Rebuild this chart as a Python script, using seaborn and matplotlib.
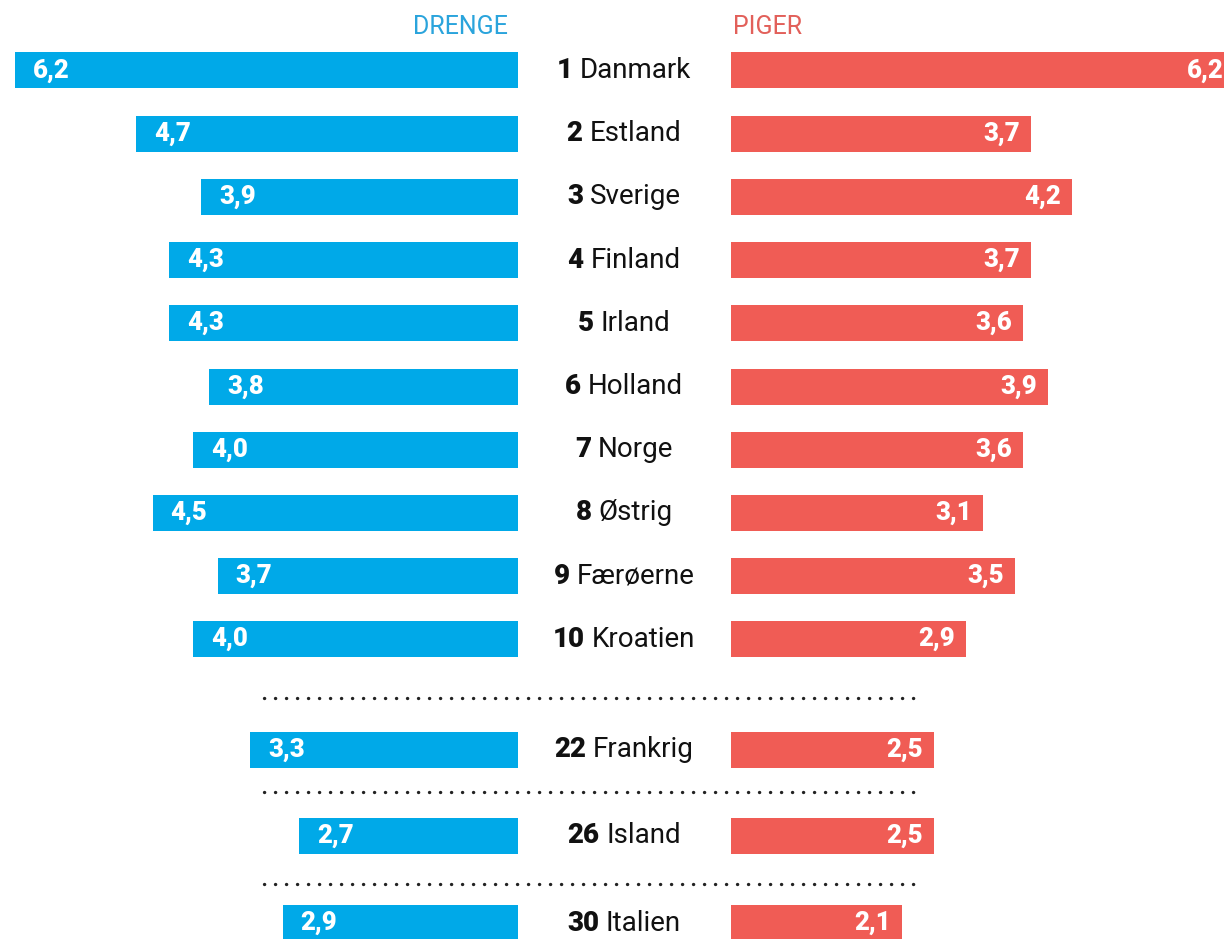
import pandas as pd
import matplotlib.pyplot as plt
import seaborn as sns

# data
ranks = [1, 2, 3, 4, 5, 6, 7, 8, 9, 10, 22, 26, 30]
countries = ["Danmark", "Estland", "Sverige", "Finland", "Irland", "Holland", "Norge",
             "Østrig", "Færøerne", "Kroatien", "Frankrig", "Island", "Italien"]
boys = [6.2, 4.7, 3.9, 4.3, 4.3, 3.8, 4.0, 4.5, 3.7, 4.0, 3.3, 2.7, 2.9]
girls = [6.2, 3.7, 4.2, 3.7, 3.6, 3.9, 3.6, 3.1, 3.5, 2.9, 2.5, 2.5, 2.1]

# layout: row slots (gaps after rank 10, 22, 26) and separator positions
row_pos = [0, 1, 2, 3, 4, 5, 6, 7, 8, 9, 10.75, 12.11, 13.49]
sep_pos = [9.93, 11.42, 12.87]

BLUE = "#00a9e8"
RED = "#f05c55"
FONT = "Roboto"

df = pd.DataFrame({"rank": ranks, "country": countries, "boys": boys,
                   "girls": girls, "pos": row_pos})

W, H = 1224, 939
fig = plt.figure(figsize=(W / 100, H / 100), dpi=100)
plt.rcParams["font.family"] = [FONT, "DejaVu Sans"]

ylim = (13.74, -1.115)
px_per_unit = 81.2

# left panel: boys, growing leftwards from the centre column
ax_l = fig.add_axes([0, 0, 518 / W, 1])
sns.barplot(data=df, x="boys", y="pos", orient="h", native_scale=True,
            color=BLUE, width=0.57, saturation=1, ax=ax_l)
ax_l.set_xlim(518 / px_per_unit, 0)
ax_l.set_ylim(*ylim)
ax_l.axis("off")
for v, y in zip(df["boys"], df["pos"]):
    ax_l.annotate(f"{v:.1f}".replace(".", ","), (v, y), xytext=(13, 0),
                  textcoords="offset points", ha="left", va="center",
                  color="white", fontsize=18.5, fontweight="heavy")

# right panel: girls
ax_r = fig.add_axes([731 / W, 0, (W - 731) / W, 1])
sns.barplot(data=df, x="girls", y="pos", orient="h", native_scale=True,
            color=RED, width=0.57, saturation=1, ax=ax_r)
ax_r.set_xlim(0, (W - 731) / px_per_unit)
ax_r.set_ylim(*ylim)
ax_r.axis("off")
for v, y in zip(df["girls"], df["pos"]):
    ax_r.annotate(f"{v:.1f}".replace(".", ","), (v, y), xytext=(-8, 0),
                  textcoords="offset points", ha="right", va="center",
                  color="white", fontsize=18.5, fontweight="heavy", annotation_clip=False)

# overlay for the centre labels, headers and dotted separators (x in pixels)
ov = fig.add_axes([0, 0, 1, 1], facecolor="none")
ov.set_xlim(0, W)
ov.set_ylim(*ylim)
ov.axis("off")

for y in sep_pos:
    ov.plot([264, 918], [y, y], color="#222222", lw=2.4,
            linestyle=(0, (0.05, 3.25)), dash_capstyle="round")

ov.text(508, -0.68, "DRENGE", color="#2aa4dc", fontsize=18, ha="right", va="center")
ov.text(733, -0.68, "PIGER", color="#e2605a", fontsize=18, ha="left", va="center")

# rank (bold) + country name, centred as one line
pairs = []
for r, c, y in zip(df["rank"], df["country"], df["pos"]):
    t1 = ov.text(0, y, str(r), fontsize=20, fontweight="heavy", color="#111111",
                 ha="left", va="center")
    t2 = ov.text(0, y, c, fontsize=20, color="#111111", ha="left", va="center")
    pairs.append((t1, t2, y))

fig.canvas.draw()
renderer = fig.canvas.get_renderer()
gap = 7
for t1, t2, y in pairs:
    w1 = t1.get_window_extent(renderer).width
    w2 = t2.get_window_extent(renderer).width
    start = 624 - (w1 + gap + w2) / 2
    t1.set_x(start)
    t2.set_x(start + w1 + gap)

fig.savefig("out.png", dpi=100, facecolor="white")
